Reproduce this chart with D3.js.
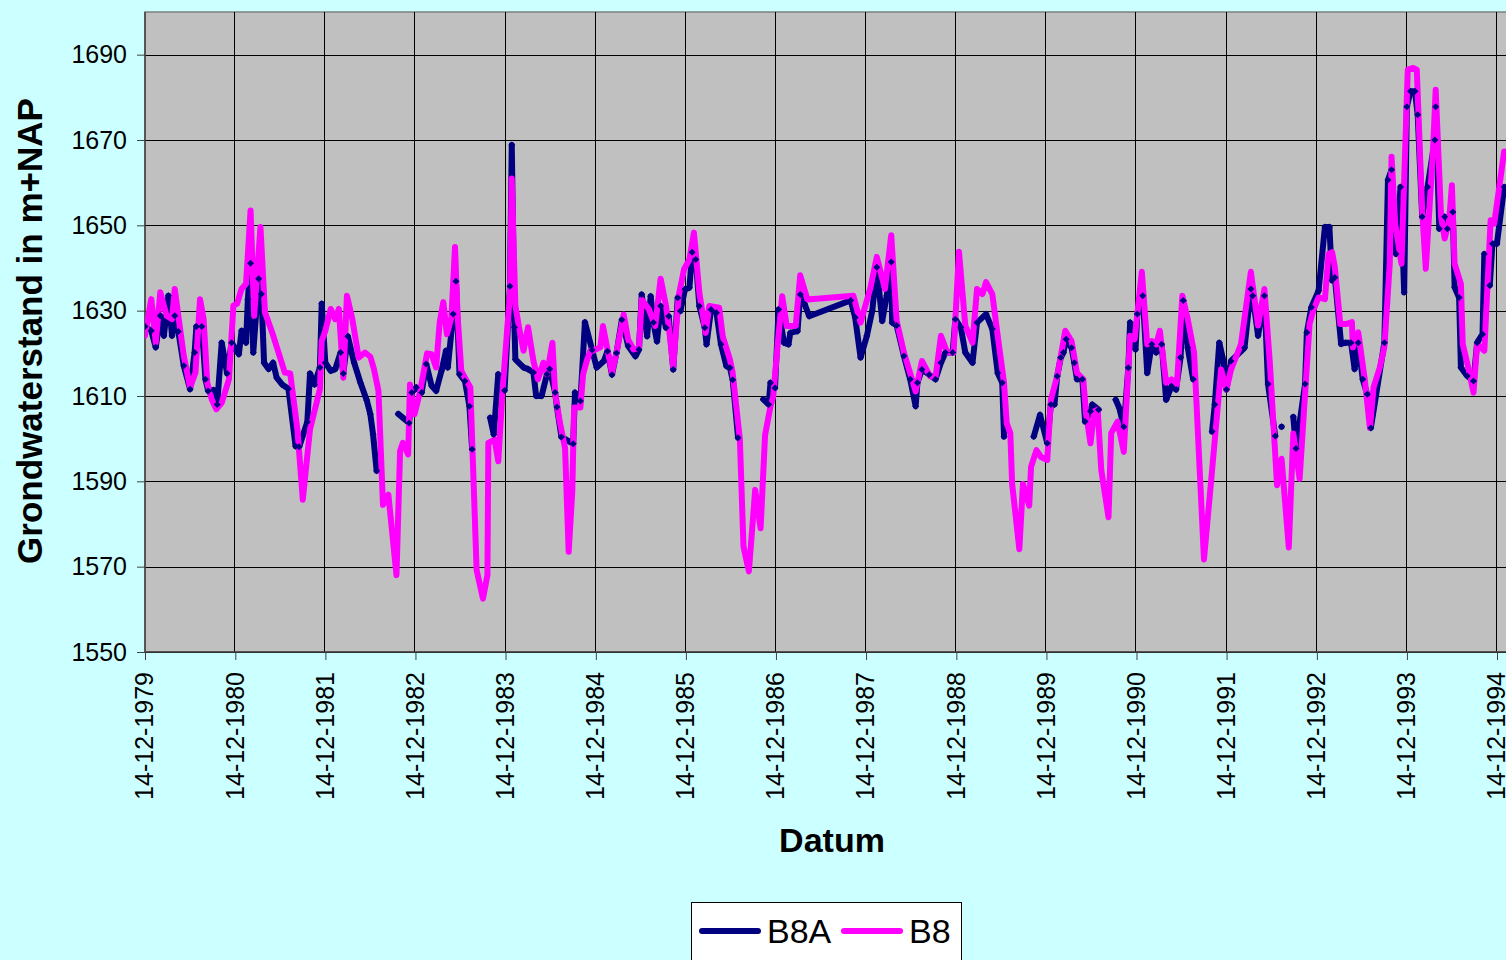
<!DOCTYPE html>
<html>
<head>
<meta charset="utf-8">
<script src="https://cdn.jsdelivr.net/npm/d3@7"></script>
<style>
  html, body { margin: 0; padding: 0; background: #ccffff; overflow: hidden; }
  text { font-family: "Liberation Sans", Arial, sans-serif; fill: #000; }
</style>
</head>
<body>
<div id="chart"></div>
<script>
// B8A: decimal year + level (null = no measurement, line breaks there)
var b8aYears = [
  1979.95, 1980.02, 1980.07, 1980.12, 1980.16, 1980.21, 1980.25, 1980.28, 1980.32, 1980.38,
  1980.45, 1980.50, 1980.52, 1980.58, 1980.62, 1980.65, 1980.71, 1980.75, 1980.80, 1980.86,
  1980.91, 1980.99, 1981.02, 1981.07, 1981.09, 1981.12, 1981.15, 1981.21, 1981.24, 1981.27,
  1981.32, 1981.37, 1981.41, 1981.47, 1981.54, 1981.62, 1981.66, 1981.75, 1981.78, 1981.83,
  1981.89, 1981.91, 1981.95, 1982.01, 1982.06, 1982.12, 1982.15, 1982.20, 1982.27, 1982.34,
  1982.41, 1982.45, 1982.48, 1982.52, 1982.64, 1982.76, 1982.88, 1982.91, 1982.96, 1983.02,
  1983.07, 1983.13, 1983.18, 1983.24, 1983.29, 1983.31, 1983.37, 1983.40, 1983.44, 1983.50,
  1983.55, 1983.58, 1983.68, 1983.78, 1983.82, 1983.87, 1983.94, 1984.00, 1984.02, 1984.05,
  1984.06, 1984.15, 1984.20, 1984.26, 1984.29, 1984.35, 1984.41, 1984.44, 1984.50, 1984.52,
  1984.57, 1984.70, 1984.72, 1984.78, 1984.83, 1984.91, 1984.96, 1985.04, 1985.08, 1985.13,
  1985.18, 1985.24, 1985.31, 1985.39, 1985.43, 1985.46, 1985.52, 1985.56, 1985.59, 1985.63,
  1985.67, 1985.73, 1985.76, 1985.81, 1985.86, 1985.89, 1985.94, 1985.99, 1986.02, 1986.06,
  1986.10, 1986.16, 1986.18, 1986.23, 1986.29, 1986.34, 1986.40, 1986.44, 1986.47, 1986.53,
  1986.67, 1986.81, 1986.87, 1986.89, 1986.94, 1986.98, 1987.04, 1987.09, 1987.11, 1987.19,
  1987.22, 1987.27, 1987.32, 1987.78, 1987.83, 1987.89, 1987.96, 1988.02, 1988.07, 1988.13,
  1988.18, 1988.23, 1988.24, 1988.29, 1988.37, 1988.44, 1988.50, 1988.52, 1988.57, 1988.65,
  1988.72, 1988.78, 1988.83, 1988.91, 1988.94, 1989.00, 1989.05, 1989.13, 1989.18, 1989.28,
  1989.35, 1989.41, 1989.46, 1989.48, 1989.65, 1989.81, 1989.88, 1989.96, 1990.00, 1990.04,
  1990.07, 1990.11, 1990.14, 1990.17, 1990.23, 1990.26, 1990.29, 1990.35, 1990.38, 1990.44,
  1990.46, 1990.53, 1990.62, 1990.72, 1990.76, 1990.81, 1990.86, 1990.88, 1990.94, 1990.96,
  1991.02, 1991.07, 1991.12, 1991.17, 1991.23, 1991.28, 1991.34, 1991.39, 1991.44, 1991.47,
  1991.52, 1991.58, 1991.68, 1991.79, 1991.82, 1991.87, 1991.92, 1991.95, 1992.00, 1992.15,
  1992.22, 1992.24, 1992.30, 1992.37, 1992.41, 1992.49, 1992.52, 1992.56, 1992.62, 1992.69,
  1992.72, 1992.82, 1992.84, 1992.89, 1992.97, 1993.04, 1993.09, 1993.12, 1993.15, 1993.22,
  1993.27, 1993.33, 1993.37, 1993.41, 1993.46, 1993.51, 1993.55, 1993.70, 1993.74, 1993.78,
  1993.83, 1993.88, 1993.92, 1993.95, 1993.99, 1994.04, 1994.07, 1994.12, 1994.18, 1994.26,
  1994.27, 1994.31, 1994.37, 1994.40, 1994.46, 1994.48, 1994.53, 1994.55, 1994.62, 1994.69,
  1994.73, 1994.79, 1994.81, 1994.87, 1994.90, 1994.95, 1995.03
];
var b8aLevels = [
  1626.3, 1625.3, 1621.4, 1628.8, 1624.1, 1633.5, 1624.1, 1628.8, 1625.1, 1617.1,
  1611.6, 1620.2, 1626.3, 1626.3, 1613.9, 1611.2, 1611.4, 1608.0, 1622.5, 1615.3,
  1622.5, 1619.8, 1625.3, 1622.5, 1632.7, 1641.1, 1620.2, 1637.5, 1633.9, 1617.8,
  1616.3, 1617.8, 1614.3, 1612.7, 1611.7, 1598.2, 1598.1, 1603.9, 1615.3, 1612.7,
  1616.7, 1631.6, 1617.8, 1615.9, 1616.3, 1620.2, 1615.3, 1624.0, 1617.8, 1613.1,
  1609.0, 1605.7, 1601.0, 1592.5, null, 1605.8, 1603.7, 1610.8, 1612.0, 1610.8,
  1617.5, 1612.4, 1611.2, 1615.9, 1620.6, 1616.7, 1629.2, 1636.9, 1615.1, 1613.5,
  1607.6, 1597.5, null, 1604.9, 1601.0, 1615.1, 1611.3, 1635.7, 1668.8, 1626.1,
  1618.6, 1616.7, 1616.3, 1615.5, 1610.0, 1610.0, 1615.1, 1616.3, 1610.8, 1607.4,
  1600.4, 1598.8, 1610.8, 1608.8, 1627.3, 1620.8, 1616.7, 1618.2, 1620.5, 1615.0,
  1620.1, 1627.9, 1621.7, 1619.3, 1620.9, 1633.8, 1624.0, 1633.4, 1627.2, 1622.8,
  1631.1, 1626.0, 1628.7, 1616.2, 1633.0, 1629.9, 1635.0, 1635.4, 1643.7, 1642.0,
  1631.1, 1626.0, 1622.1, 1630.3, 1629.5, 1622.1, 1617.0, 1616.6, 1613.8, 1600.2,
  null, 1609.2, 1608.0, 1613.1, 1611.9, 1630.3, 1622.5, 1622.1, 1624.8, 1625.2,
  1633.8, 1631.5, 1628.7, 1632.4, 1628.4, 1619.0, 1624.1, 1630.0, 1640.2, 1627.6,
  1633.5, 1641.4, 1627.2, 1626.5, 1619.4, 1613.9, 1607.6, 1613.1, 1616.2, 1615.0,
  1613.9, 1617.8, 1620.2, 1620.2, 1628.0, 1626.1, 1620.2, 1617.8, 1627.2, 1629.2,
  1625.7, 1615.4, 1613.1, 1600.5, null, 1600.5, 1605.6, 1598.9, 1608.0, 1608.0,
  1614.6, 1619.0, 1620.2, 1623.3, 1621.3, 1617.8, 1613.9, 1613.9, 1604.0, 1606.4,
  1608.0, 1606.8, null, 1609.1, 1607.2, 1602.8, 1616.6, 1627.2, 1620.9, 1629.2,
  1633.5, 1615.4, 1622.1, 1620.2, 1622.1, 1609.1, 1612.3, 1611.5, 1619.0, 1632.4,
  1621.3, 1613.9, null, 1601.7, 1608.0, 1622.5, 1617.8, 1611.5, 1618.2, 1621.3,
  1635.1, 1633.5, 1624.1, 1633.5, 1612.8, 1600.6, null, 1602.8, null, 1605.1,
  1597.7, 1612.8, 1624.9, 1630.8, 1634.7, 1649.6, 1649.6, 1637.1, 1637.8, 1622.2,
  1622.5, 1622.5, 1616.3, 1622.5, 1613.9, 1610.4, 1602.5, 1622.5, 1660.6, 1663.0,
  1643.3, 1659.0, 1634.3, 1677.8, 1681.4, 1681.4, 1675.9, 1652.0, 1659.0, 1670.0,
  1677.8, 1649.2, 1652.0, 1649.2, 1653.1, 1635.5, 1633.1, 1616.7, 1614.7, 1613.5,
  1622.5, 1624.5, 1643.3, 1635.9, 1645.7, 1645.7, 1659.0
];

// B8
var b8Years = [
  1979.95, 1980.02, 1980.07, 1980.12, 1980.19, 1980.25, 1980.28, 1980.32, 1980.38, 1980.45,
  1980.51, 1980.56, 1980.60, 1980.64, 1980.69, 1980.74, 1980.80, 1980.88, 1980.93, 1980.97,
  1981.02, 1981.07, 1981.12, 1981.16, 1981.23, 1981.28, 1981.36, 1981.50, 1981.56, 1981.64,
  1981.70, 1981.78, 1981.89, 1981.91, 1981.95, 1982.01, 1982.06, 1982.10, 1982.15, 1982.19,
  1982.25, 1982.32, 1982.39, 1982.45, 1982.49, 1982.54, 1982.59, 1982.65, 1982.74, 1982.78,
  1982.81, 1982.87, 1982.89, 1982.94, 1983.00, 1983.08, 1983.13, 1983.18, 1983.22, 1983.26,
  1983.30, 1983.35, 1983.39, 1983.42, 1983.46, 1983.52, 1983.56, 1983.63, 1983.70, 1983.75,
  1983.76, 1983.83, 1983.87, 1983.92, 1984.00, 1984.02, 1984.06, 1984.10, 1984.15, 1984.20,
  1984.26, 1984.31, 1984.37, 1984.41, 1984.47, 1984.50, 1984.55, 1984.61, 1984.65, 1984.69,
  1984.71, 1984.78, 1984.81, 1984.85, 1984.89, 1984.92, 1985.00, 1985.03, 1985.13, 1985.18,
  1985.26, 1985.31, 1985.37, 1985.43, 1985.46, 1985.54, 1985.61, 1985.67, 1985.73, 1985.76,
  1985.81, 1985.87, 1985.93, 1985.99, 1986.04, 1986.10, 1986.17, 1986.21, 1986.32, 1986.36,
  1986.44, 1986.47, 1986.55, 1986.59, 1986.65, 1986.72, 1986.78, 1986.83, 1986.89, 1986.92,
  1986.97, 1987.02, 1987.07, 1987.17, 1987.22, 1987.30, 1987.81, 1987.89, 1988.00, 1988.07,
  1988.16, 1988.23, 1988.29, 1988.37, 1988.50, 1988.57, 1988.66, 1988.72, 1988.78, 1988.85,
  1988.92, 1988.98, 1989.05, 1989.13, 1989.18, 1989.24, 1989.28, 1989.35, 1989.42, 1989.48,
  1989.51, 1989.55, 1989.57, 1989.65, 1989.69, 1989.76, 1989.78, 1989.84, 1989.89, 1989.96,
  1990.00, 1990.07, 1990.16, 1990.23, 1990.29, 1990.36, 1990.39, 1990.44, 1990.48, 1990.52,
  1990.56, 1990.64, 1990.67, 1990.74, 1990.81, 1990.88, 1990.93, 1991.01, 1991.07, 1991.12,
  1991.17, 1991.21, 1991.28, 1991.34, 1991.40, 1991.46, 1991.52, 1991.59, 1991.70, 1991.79,
  1991.89, 1991.95, 1992.00, 1992.11, 1992.22, 1992.30, 1992.37, 1992.43, 1992.51, 1992.56,
  1992.64, 1992.69, 1992.76, 1992.87, 1992.91, 1992.97, 1993.04, 1993.08, 1993.12, 1993.15,
  1993.21, 1993.28, 1993.34, 1993.35, 1993.41, 1993.48, 1993.54, 1993.58, 1993.65, 1993.70,
  1993.76, 1993.78, 1993.82, 1993.89, 1993.96, 1994.02, 1994.06, 1994.12, 1994.16, 1994.24,
  1994.27, 1994.33, 1994.37, 1994.42, 1994.45, 1994.48, 1994.55, 1994.57, 1994.64, 1994.69,
  1994.73, 1994.81, 1994.88, 1994.92, 1995.03
];
var b8Levels = [
  1624.1, 1632.7, 1622.5, 1634.3, 1628.8, 1628.0, 1635.1, 1628.8, 1619.4, 1612.0,
  1615.5, 1632.7, 1628.0, 1613.1, 1609.2, 1606.9, 1608.4, 1613.9, 1631.2, 1631.6,
  1635.1, 1636.3, 1653.5, 1628.8, 1649.6, 1629.6, 1624.9, 1615.5, 1615.3, 1602.2,
  1585.7, 1602.2, 1611.6, 1622.9, 1625.3, 1630.4, 1628.0, 1630.4, 1614.3, 1633.5,
  1628.0, 1619.0, 1620.2, 1619.2, 1616.3, 1611.2, 1584.5, 1586.9, 1568.0, 1597.1,
  1599.0, 1596.3, 1612.7, 1605.7, 1610.8, 1620.0, 1619.8, 1616.7, 1627.3, 1632.0,
  1624.5, 1628.4, 1644.9, 1628.4, 1615.9, 1613.5, 1612.0, 1569.2, 1562.5, 1568.0,
  1599.0, 1599.8, 1594.7, 1612.0, 1633.9, 1661.0, 1631.2, 1626.1, 1620.6, 1626.1,
  1618.2, 1613.9, 1617.8, 1615.1, 1622.5, 1610.8, 1604.1, 1597.8, 1573.5, 1587.6,
  1607.3, 1607.3, 1615.1, 1618.2, 1620.6, 1620.6, 1621.4, 1626.4, 1615.4, 1620.1,
  1629.1, 1623.2, 1620.9, 1621.3, 1632.6, 1630.3, 1626.4, 1637.5, 1631.1, 1626.4,
  1616.6, 1633.4, 1639.7, 1642.0, 1648.3, 1634.2, 1624.8, 1631.1, 1630.7, 1624.0,
  1618.5, 1615.4, 1599.8, 1574.7, 1568.9, 1588.0, 1579.0, 1600.9, 1607.6, 1609.9,
  1622.1, 1633.4, 1626.4, 1626.4, 1638.3, 1632.6, 1633.5, 1627.2, 1635.4, 1642.6,
  1635.1, 1647.7, 1627.6, 1620.2, 1611.1, 1618.2, 1614.6, 1614.3, 1624.1, 1620.2,
  1620.2, 1643.8, 1626.5, 1622.5, 1635.1, 1633.9, 1636.7, 1633.9, 1622.5, 1613.1,
  1603.6, 1601.3, 1589.4, 1574.1, 1589.4, 1584.3, 1593.4, 1597.3, 1595.7, 1595.0,
  1609.1, 1614.6, 1625.3, 1622.9, 1615.4, 1613.9, 1606.0, 1598.9, 1606.4, 1606.8,
  1592.6, 1581.6, 1601.3, 1604.0, 1596.9, 1624.1, 1623.3, 1639.1, 1622.1, 1622.9,
  1622.1, 1625.3, 1613.1, 1613.9, 1612.7, 1633.5, 1628.0, 1620.2, 1571.7, 1592.6,
  1616.2, 1611.5, 1616.2, 1622.1, 1639.1, 1626.5, 1635.1, 1617.8, 1589.1, 1595.3,
  1574.5, 1601.2, 1590.6, 1626.9, 1630.0, 1633.1, 1632.7, 1643.3, 1643.7, 1640.2,
  1626.9, 1626.9, 1627.3, 1621.4, 1624.9, 1614.3, 1602.5, 1612.0, 1616.7, 1621.4,
  1641.0, 1666.1, 1650.4, 1641.0, 1686.5, 1686.9, 1686.5, 1653.5, 1639.8, 1667.6,
  1681.8, 1652.0, 1646.9, 1651.2, 1659.4, 1641.0, 1636.3, 1622.2, 1615.9, 1610.8,
  1622.2, 1620.6, 1651.2, 1650.4, 1667.3
];

var tickYears = d3.range(1979, 1995);
var levelTicks = [1550, 1570, 1590, 1610, 1630, 1650, 1670, 1690];

var width = 1506, height = 960;
var plot = { left: 145, top: 12, right: 1510, bottom: 652 };

function yearToDate(t) {
  var y = Math.floor(t);
  var a = Date.UTC(y, 0, 1), b = Date.UTC(y + 1, 0, 1);
  return new Date(a + (t - y) * (b - a));
}
function tickDate(y) { return new Date(Date.UTC(y, 11, 14)); }

var b8a = b8aYears.map(function (t, i) { return { date: yearToDate(t), value: b8aLevels[i] }; });
var b8 = b8Years.map(function (t, i) { return { date: yearToDate(t), value: b8Levels[i] }; });

var x = d3.scaleUtc()
  .domain([tickDate(1979), tickDate(1994)])
  .range([145, 1497]);
var y = d3.scaleLinear()
  .domain([1550, 1700])
  .range([plot.bottom, plot.top]);

var svg = d3.select("#chart")
  .append("svg")
  .attr("width", width)
  .attr("height", height)
  .style("display", "block");

svg.append("rect")
  .attr("width", width).attr("height", height)
  .attr("fill", "#ccffff");

svg.append("defs").append("clipPath").attr("id", "clip")
  .append("rect")
  .attr("x", plot.left).attr("y", plot.top)
  .attr("width", plot.right - plot.left).attr("height", plot.bottom - plot.top);

svg.append("rect")
  .attr("x", plot.left).attr("y", plot.top)
  .attr("width", plot.right - plot.left).attr("height", plot.bottom - plot.top)
  .attr("fill", "#c0c0c0")
  .attr("stroke", "#808080")
  .attr("stroke-width", 1.5);

// gridlines
svg.append("g")
  .selectAll("line")
  .data(levelTicks)
  .enter()
  .append("line")
  .attr("x1", plot.left).attr("x2", plot.right)
  .attr("y1", function (d) { return Math.round(y(d)) + 0.5; })
  .attr("y2", function (d) { return Math.round(y(d)) + 0.5; })
  .attr("stroke", "#000").attr("stroke-width", 1);

svg.append("g")
  .selectAll("line")
  .data(tickYears.slice(1))
  .enter()
  .append("line")
  .attr("x1", function (d) { return Math.round(x(tickDate(d))) - 0.5; })
  .attr("x2", function (d) { return Math.round(x(tickDate(d))) - 0.5; })
  .attr("y1", plot.top).attr("y2", plot.bottom)
  .attr("stroke", "#000").attr("stroke-width", 1);

// axes
var yAxis = d3.axisLeft(y)
  .tickValues(levelTicks)
  .tickSize(8)
  .tickPadding(10)
  .tickFormat(d3.format("d"));
var yg = svg.append("g")
  .attr("transform", "translate(" + plot.left + ",0)")
  .call(yAxis);
yg.select(".domain").attr("stroke", "#404040").attr("stroke-width", 1.5)
  .attr("d", "M0," + plot.top + "V" + plot.bottom);
yg.selectAll(".tick line").attr("stroke", "#404040");
yg.selectAll(".tick text")
  .style("font-size", "25px")
  .attr("fill", "#000");

var xAxis = d3.axisBottom(x)
  .tickValues(tickYears.map(tickDate))
  .tickSize(8)
  .tickFormat(d3.utcFormat("%d-%m-%Y"));
var xg = svg.append("g")
  .attr("transform", "translate(0," + plot.bottom + ")")
  .call(xAxis);
xg.select(".domain").attr("stroke", "#404040").attr("stroke-width", 1.5)
  .attr("d", "M" + plot.left + ",0H" + plot.right);
xg.selectAll(".tick line").attr("stroke", "#404040");
xg.selectAll(".tick text")
  .style("font-size", "25px")
  .attr("fill", "#000")
  .attr("text-anchor", "end")
  .attr("transform", "rotate(-90)")
  .attr("x", -20)
  .attr("y", -1)
  .attr("dy", "0.35em");

// series
var line = d3.line()
  .defined(function (d) { return d.value !== null; })
  .x(function (d) { return x(d.date); })
  .y(function (d) { return y(d.value); });

var series = svg.append("g").attr("clip-path", "url(#clip)");

series.append("path")
  .datum(b8a)
  .attr("fill", "none")
  .attr("stroke", "#000080")
  .attr("stroke-width", 6)
  .attr("stroke-linejoin", "round")
  .attr("stroke-linecap", "round")
  .attr("d", line);

series.append("path")
  .datum(b8)
  .attr("fill", "none")
  .attr("stroke", "#ff00ff")
  .attr("stroke-width", 6)
  .attr("stroke-linejoin", "round")
  .attr("stroke-linecap", "round")
  .attr("d", line);

series.selectAll("path.marker")
  .data(b8a.filter(function (d) { return d.value !== null; }))
  .enter()
  .append("path")
  .attr("class", "marker")
  .attr("d", "M0,-3.5L3.5,0L0,3.5L-3.5,0Z")
  .attr("fill", "#000080")
  .attr("transform", function (d) {
    return "translate(" + x(d.date) + "," + y(d.value) + ")";
  });

// titles
svg.append("text")
  .attr("transform", "translate(42,331) rotate(-90)")
  .attr("text-anchor", "middle")
  .style("font-size", "35px")
  .style("font-weight", "bold")
  .text("Grondwaterstand in m+NAP");

svg.append("text")
  .attr("x", 832).attr("y", 852)
  .attr("text-anchor", "middle")
  .style("font-size", "34px")
  .style("font-weight", "bold")
  .text("Datum");

// legend
var legend = svg.append("g");
legend.append("rect")
  .attr("x", 691.5).attr("y", 902.5)
  .attr("width", 270).attr("height", 80)
  .attr("fill", "#fff")
  .attr("stroke", "#000");

var legendItems = [
  { name: "B8A", color: "#000080", x: 700 },
  { name: "B8", color: "#ff00ff", x: 842 }
];
var li = legend.selectAll("g.item")
  .data(legendItems)
  .enter()
  .append("g")
  .attr("class", "item")
  .attr("transform", function (d) { return "translate(" + d.x + ",931)"; });
li.append("line")
  .attr("x1", 2).attr("x2", 58)
  .attr("stroke", function (d) { return d.color; })
  .attr("stroke-width", 6)
  .attr("stroke-linecap", "round");
li.append("text")
  .attr("x", 67).attr("y", 12)
  .style("font-size", "34px")
  .text(function (d) { return d.name; });
</script>
</body>
</html>
